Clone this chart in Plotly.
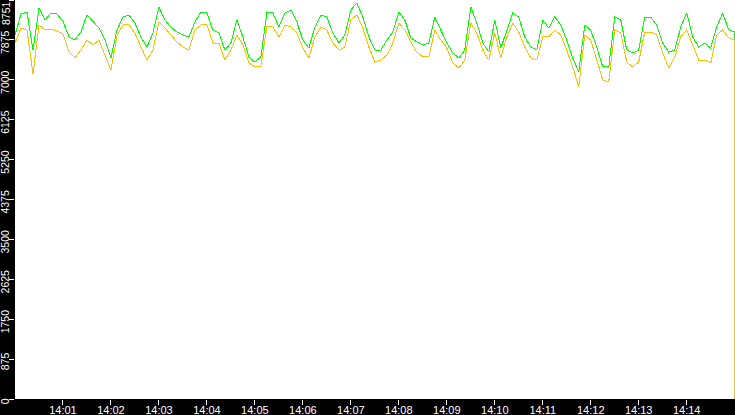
import pandas as pd
import plotly.graph_objects as go

# green series (upper line)
green = [7983, 8444, 8488, 7654, 8576, 8312, 8466, 8444, 8290, 7940,
         7874, 8049, 8422, 8269, 8137, 7874, 7479, 8093, 8378, 8422,
         8247, 7940, 7720, 8027, 8597, 8312, 8159, 8049, 7983, 7940,
         8269,
         8488, 8466, 8093, 8027, 7654, 7808, 8312, 7940, 7501, 7391,
         7501, 8488, 8466, 8159, 8466, 8532, 8269, 7874, 7698, 8159,
         8422, 8378, 8027, 7808, 7983, 8532, 8685, 8378, 7940, 7654,
         7654, 7874, 8049, 8488, 8312, 7918, 7830, 7764, 7808, 8378,
         8093, 7808, 7589, 7479, 7654, 8597, 8247, 7808, 7611, 8312,
         7698, 8093, 8466, 8378, 7940, 7720, 7654, 8312, 8137, 8378,
         8203, 7874, 7479, 7172, 8203, 8093, 7720, 7282, 7282, 8378,
         8312, 7654, 7589, 7654, 8378, 8378, 8203, 7808, 7611, 7654,
         8159, 8466, 7940, 7720, 7808, 7698, 8159, 8466, 8093, 8049,
         3970]

# orange series (lower line)
orange = [7808, 8137, 8093, 7128, 8203, 8093, 8115, 8071, 8005, 7611,
          7479, 7654, 7874, 7764, 7874, 7545, 7216, 7962, 8203, 8203,
          8027, 7720, 7435, 7654, 8269, 8137, 7983, 7830, 7720, 7654,
          8093,
          8203, 8203, 7808, 7808, 7435, 7654, 7983, 7764, 7369, 7282,
          7304, 8159, 8159, 7940, 8203, 8159, 8027, 7698, 7479, 7940,
          8159, 8093, 7808, 7654, 7720, 8312, 8422, 8137, 7720, 7391,
          7435, 7545, 7808, 8247, 8093, 7830, 7611, 7501, 7501, 8093,
          7874, 7698, 7369, 7260, 7435, 8247, 8027, 7654, 7435, 8027,
          7479, 7940, 8247, 8049, 7720, 7479, 7435, 7940, 7940, 8093,
          7983, 7654, 7282, 6843, 7983, 7874, 7435, 6997, 6953, 8093,
          8027, 7391, 7282, 7391, 8049, 8049, 7983, 7589, 7260, 7501,
          7940, 8093, 7764, 7435, 7435, 7369, 7983, 8093, 7918, 7874,
          0]

times = list(pd.date_range("2024-01-01 14:00:00", periods=121, freq="7500ms"))
times.append(times[-1])

y_ticks = [0, 875, 1750, 2625, 3500, 4375, 5250, 6125, 7000, 7875, 8751]
x_ticks = ["14:01", "14:02", "14:03", "14:04", "14:05", "14:06", "14:07",
           "14:08", "14:09", "14:10", "14:11", "14:12", "14:13", "14:14"]
x_tickvals = ["2024-01-01 " + t + ":00" for t in x_ticks]

fig = go.Figure()
fig.add_trace(go.Scatter(x=times, y=green, mode="lines",
                         line=dict(color="#00ff00", width=1)))
fig.add_trace(go.Scatter(x=times, y=orange, mode="lines",
                         line=dict(color="#ffc000", width=1)))

fig.update_layout(
    width=735, height=415,
    margin=dict(l=15, r=0, t=0, b=16, pad=0),
    paper_bgcolor="black", plot_bgcolor="white",
    showlegend=False,
    font=dict(family="Liberation Sans", size=11, color="white"),
)
fig.update_xaxes(
    range=["2024-01-01 14:00:00", "2024-01-01 14:15:00.4"],
    tickvals=x_tickvals, ticktext=x_ticks,
    ticks="outside", ticklen=5, tickcolor="white", tickwidth=1,
    ticklabelstandoff=-4, automargin=False,
    showgrid=False, zeroline=False, showline=False,
    tickfont=dict(color="white", size=11),
)
# top label (the max) would be clipped as a tick label, so it is drawn as an annotation
fig.update_yaxes(
    range=[0, 8751],
    tickvals=y_ticks, ticktext=[str(v) for v in y_ticks[:-1]] + [""],
    ticks="outside", ticklen=5, tickcolor="white", tickwidth=1,
    tickangle=-90, ticklabelstandoff=-4, ticklabelshift=4, automargin=False,
    showgrid=False, zeroline=False, showline=False,
    tickfont=dict(color="white", size=10.5),
)
fig.add_annotation(text=str(y_ticks[-1]), xref="paper", yref="paper", x=0, y=1,
                   xanchor="right", yanchor="top", textangle=-90, showarrow=False,
                   xshift=-2, borderpad=0, font=dict(color="white", size=10.5))

# no body margin, and crisp (non antialiased) lines like the original
js = ("document.body.style.margin='0';"
      "document.querySelectorAll('.scatterlayer path').forEach("
      "function(p){p.style.shapeRendering='crispEdges';});")
fig.write_html("out.html", config={"displayModeBar": False}, post_script=js)
